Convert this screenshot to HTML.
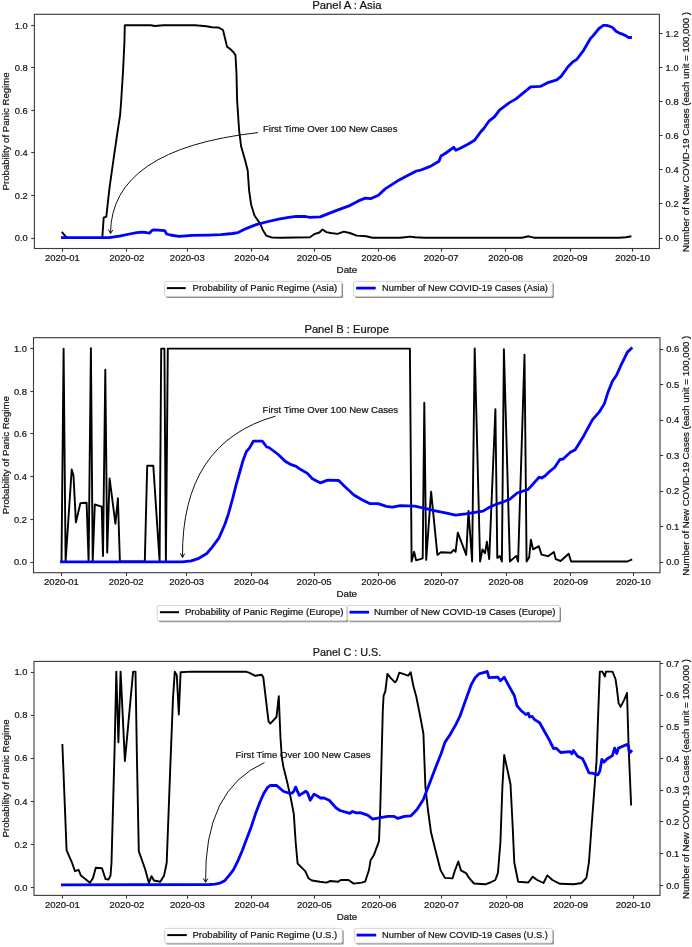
<!DOCTYPE html>
<html><head><meta charset="utf-8"><style>
html,body{margin:0;padding:0;background:#fff;}
svg{display:block;will-change:transform;}
text{font-family:"Liberation Sans", sans-serif;stroke:#1a1a1a;stroke-width:0.22px;}
</style></head><body>
<svg width="692" height="947" viewBox="0 0 692 947">
<rect width="692" height="947" fill="#fff"/>
<text x="346.90" y="9.20" font-size="10.9" text-anchor="middle" fill="#111" textLength="69.50" lengthAdjust="spacingAndGlyphs">Panel A : Asia</text>
<line x1="31.20" y1="238.50" x2="34.40" y2="238.50" stroke="#3a3a3a" stroke-width="1.1"/>
<text x="27.80" y="241.30" font-size="9.4" text-anchor="end" fill="#111" textLength="13.00" lengthAdjust="spacingAndGlyphs">0.0</text>
<line x1="31.20" y1="195.50" x2="34.40" y2="195.50" stroke="#3a3a3a" stroke-width="1.1"/>
<text x="27.80" y="198.78" font-size="9.4" text-anchor="end" fill="#111" textLength="13.00" lengthAdjust="spacingAndGlyphs">0.2</text>
<line x1="31.20" y1="152.50" x2="34.40" y2="152.50" stroke="#3a3a3a" stroke-width="1.1"/>
<text x="27.80" y="156.26" font-size="9.4" text-anchor="end" fill="#111" textLength="13.00" lengthAdjust="spacingAndGlyphs">0.4</text>
<line x1="31.20" y1="110.50" x2="34.40" y2="110.50" stroke="#3a3a3a" stroke-width="1.1"/>
<text x="27.80" y="113.74" font-size="9.4" text-anchor="end" fill="#111" textLength="13.00" lengthAdjust="spacingAndGlyphs">0.6</text>
<line x1="31.20" y1="67.50" x2="34.40" y2="67.50" stroke="#3a3a3a" stroke-width="1.1"/>
<text x="27.80" y="71.22" font-size="9.4" text-anchor="end" fill="#111" textLength="13.00" lengthAdjust="spacingAndGlyphs">0.8</text>
<line x1="31.20" y1="25.50" x2="34.40" y2="25.50" stroke="#3a3a3a" stroke-width="1.1"/>
<text x="27.80" y="28.70" font-size="9.4" text-anchor="end" fill="#111" textLength="13.00" lengthAdjust="spacingAndGlyphs">1.0</text>
<line x1="659.40" y1="238.50" x2="662.60" y2="238.50" stroke="#3a3a3a" stroke-width="1.1"/>
<text x="665.60" y="241.40" font-size="9.4" text-anchor="start" fill="#111" textLength="13.00" lengthAdjust="spacingAndGlyphs">0.0</text>
<line x1="659.40" y1="203.50" x2="662.60" y2="203.50" stroke="#3a3a3a" stroke-width="1.1"/>
<text x="665.60" y="207.28" font-size="9.4" text-anchor="start" fill="#111" textLength="13.00" lengthAdjust="spacingAndGlyphs">0.2</text>
<line x1="659.40" y1="169.50" x2="662.60" y2="169.50" stroke="#3a3a3a" stroke-width="1.1"/>
<text x="665.60" y="173.16" font-size="9.4" text-anchor="start" fill="#111" textLength="13.00" lengthAdjust="spacingAndGlyphs">0.4</text>
<line x1="659.40" y1="135.50" x2="662.60" y2="135.50" stroke="#3a3a3a" stroke-width="1.1"/>
<text x="665.60" y="139.04" font-size="9.4" text-anchor="start" fill="#111" textLength="13.00" lengthAdjust="spacingAndGlyphs">0.6</text>
<line x1="659.40" y1="101.50" x2="662.60" y2="101.50" stroke="#3a3a3a" stroke-width="1.1"/>
<text x="665.60" y="104.92" font-size="9.4" text-anchor="start" fill="#111" textLength="13.00" lengthAdjust="spacingAndGlyphs">0.8</text>
<line x1="659.40" y1="67.50" x2="662.60" y2="67.50" stroke="#3a3a3a" stroke-width="1.1"/>
<text x="665.60" y="70.80" font-size="9.4" text-anchor="start" fill="#111" textLength="13.00" lengthAdjust="spacingAndGlyphs">1.0</text>
<line x1="659.40" y1="33.50" x2="662.60" y2="33.50" stroke="#3a3a3a" stroke-width="1.1"/>
<text x="665.60" y="36.68" font-size="9.4" text-anchor="start" fill="#111" textLength="13.00" lengthAdjust="spacingAndGlyphs">1.2</text>
<line x1="62.50" y1="248.50" x2="62.50" y2="251.70" stroke="#3a3a3a" stroke-width="1.1"/>
<text x="62.40" y="261.00" font-size="9.1" text-anchor="middle" fill="#111" textLength="34.80" lengthAdjust="spacingAndGlyphs">2020-01</text>
<line x1="126.50" y1="248.50" x2="126.50" y2="251.70" stroke="#3a3a3a" stroke-width="1.1"/>
<text x="126.91" y="261.00" font-size="9.1" text-anchor="middle" fill="#111" textLength="34.80" lengthAdjust="spacingAndGlyphs">2020-02</text>
<line x1="187.50" y1="248.50" x2="187.50" y2="251.70" stroke="#3a3a3a" stroke-width="1.1"/>
<text x="187.26" y="261.00" font-size="9.1" text-anchor="middle" fill="#111" textLength="34.80" lengthAdjust="spacingAndGlyphs">2020-03</text>
<line x1="251.50" y1="248.50" x2="251.50" y2="251.70" stroke="#3a3a3a" stroke-width="1.1"/>
<text x="251.77" y="261.00" font-size="9.1" text-anchor="middle" fill="#111" textLength="34.80" lengthAdjust="spacingAndGlyphs">2020-04</text>
<line x1="314.50" y1="248.50" x2="314.50" y2="251.70" stroke="#3a3a3a" stroke-width="1.1"/>
<text x="314.20" y="261.00" font-size="9.1" text-anchor="middle" fill="#111" textLength="34.80" lengthAdjust="spacingAndGlyphs">2020-05</text>
<line x1="378.50" y1="248.50" x2="378.50" y2="251.70" stroke="#3a3a3a" stroke-width="1.1"/>
<text x="378.71" y="261.00" font-size="9.1" text-anchor="middle" fill="#111" textLength="34.80" lengthAdjust="spacingAndGlyphs">2020-06</text>
<line x1="441.50" y1="248.50" x2="441.50" y2="251.70" stroke="#3a3a3a" stroke-width="1.1"/>
<text x="441.14" y="261.00" font-size="9.1" text-anchor="middle" fill="#111" textLength="34.80" lengthAdjust="spacingAndGlyphs">2020-07</text>
<line x1="505.50" y1="248.50" x2="505.50" y2="251.70" stroke="#3a3a3a" stroke-width="1.1"/>
<text x="505.65" y="261.00" font-size="9.1" text-anchor="middle" fill="#111" textLength="34.80" lengthAdjust="spacingAndGlyphs">2020-08</text>
<line x1="570.50" y1="248.50" x2="570.50" y2="251.70" stroke="#3a3a3a" stroke-width="1.1"/>
<text x="570.16" y="261.00" font-size="9.1" text-anchor="middle" fill="#111" textLength="34.80" lengthAdjust="spacingAndGlyphs">2020-09</text>
<line x1="632.50" y1="248.50" x2="632.50" y2="251.70" stroke="#3a3a3a" stroke-width="1.1"/>
<text x="632.59" y="261.00" font-size="9.1" text-anchor="middle" fill="#111" textLength="34.80" lengthAdjust="spacingAndGlyphs">2020-10</text>
<text x="346.90" y="273.20" font-size="9.1" text-anchor="middle" fill="#111" textLength="20.60" lengthAdjust="spacingAndGlyphs">Date</text>
<text x="9.00" y="131.40" font-size="9.1" text-anchor="middle" fill="#111" textLength="118.00" lengthAdjust="spacingAndGlyphs" transform="rotate(-90 9.00 131.40)">Probability of Panic Regime</text>
<text x="689.40" y="132.00" font-size="9.1" text-anchor="middle" fill="#111" textLength="240.00" lengthAdjust="spacingAndGlyphs" transform="rotate(-90 689.40 132.00)">Number of New COVID-19 Cases (each unit = 100,000 )</text>
<polyline points="62.4,232.6 65.9,236.9 68.0,237.9 102.3,237.9 103.7,217.6 106.3,216.6 109.5,187.8 113.6,158.9 117.5,132.0 120.1,115.2 121.2,100.7 123.0,71.8 124.4,42.9 124.8,25.2 151.0,25.3 154.8,26.0 163.2,25.3 195.1,25.3 206.4,26.2 212.0,27.2 218.6,27.5 223.0,30.0 227.1,46.9 229.9,48.8 233.7,52.5 235.5,55.3 236.5,74.0 237.1,100.1 239.1,130.2 241.1,146.3 245.1,160.3 247.7,170.4 249.1,190.4 251.1,204.5 254.5,215.5 260.1,223.6 263.1,230.6 266.2,235.6 272.2,237.6 280.4,237.7 309.9,237.2 314.2,234.2 319.4,232.5 322.5,229.5 326.4,232.1 330.7,233.0 337.6,233.9 343.7,231.6 349.8,233.0 356.7,235.6 366.2,236.3 372.3,237.7 400.0,237.7 405.0,237.2 410.0,236.6 415.0,237.3 425.0,237.7 522.0,237.7 528.6,236.3 534.0,237.7 619.2,237.7 626.0,237.2 630.5,236.4" fill="none" stroke="#000" stroke-width="1.9" stroke-linejoin="round" stroke-linecap="square" />
<polyline points="62.4,237.7 109.2,237.7 119.4,236.2 129.5,234.0 136.7,232.6 142.5,232.2 145.8,232.5 149.4,233.2 152.3,230.1 154.5,229.9 164.6,230.6 166.7,234.0 170.3,235.0 179.0,236.4 192.0,235.4 209.4,235.1 220.9,234.7 232.5,233.5 238.1,232.6 246.1,228.6 256.1,224.6 268.2,221.5 278.7,219.1 287.3,217.7 296.0,216.4 305.5,216.5 309.9,217.4 320.3,216.9 329.0,213.4 339.4,209.4 349.8,205.6 358.4,200.9 365.4,198.1 370.6,198.7 378.4,195.2 385.2,188.9 397.3,181.1 407.7,175.5 416.4,171.0 421.6,169.8 430.3,166.4 439.0,161.2 441.0,156.0 445.9,153.0 453.7,147.3 455.8,150.2 459.8,148.5 468.4,144.0 474.5,140.3 480.6,132.0 484.0,128.2 489.2,120.8 494.4,116.9 499.5,110.2 509.1,102.9 516.0,98.9 530.7,86.8 540.3,86.4 547.2,82.9 556.8,79.8 561.1,76.4 568.0,66.8 573.2,61.6 576.7,59.5 583.6,50.3 590.6,38.2 592.2,36.8 599.0,28.5 603.4,25.4 606.6,25.4 611.7,27.0 613.5,28.5 616.0,31.3 620.3,33.4 626.1,35.8 628.3,37.5 630.5,37.5" fill="none" stroke="#0000ff" stroke-width="2.8" stroke-linejoin="round" stroke-linecap="square" />
<rect x="34.40" y="14.30" width="625.00" height="234.20" fill="none" stroke="#3a3a3a" stroke-width="1.1"/>
<rect x="166.10" y="282.90" width="177.00" height="15.00" rx="1.5" fill="#8a8a8a"/>
<rect x="164.60" y="281.40" width="177.00" height="15.00" rx="1.5" fill="#fff" stroke="#d0d0d0" stroke-width="0.9"/>
<line x1="166.90" y1="288.10" x2="185.70" y2="288.10" stroke="#000" stroke-width="2.0"/>
<text x="192.60" y="291.20" font-size="9.1" text-anchor="start" fill="#111" textLength="144.60" lengthAdjust="spacingAndGlyphs">Probability of Panic Regime (Asia)</text>
<rect x="355.00" y="282.90" width="198.80" height="15.00" rx="1.5" fill="#8a8a8a"/>
<rect x="353.50" y="281.40" width="198.80" height="15.00" rx="1.5" fill="#fff" stroke="#d0d0d0" stroke-width="0.9"/>
<line x1="356.10" y1="288.10" x2="375.70" y2="288.10" stroke="#0000ff" stroke-width="2.8"/>
<text x="382.00" y="291.20" font-size="9.1" text-anchor="start" fill="#111" textLength="165.90" lengthAdjust="spacingAndGlyphs">Number of New COVID-19 Cases (Asia)</text>
<path d="M258.00,132.60 Q111.00,149.20 110.50,233.40" fill="none" stroke="#111" stroke-width="1.0"/>
<path d="M108.30,229.50 L110.50,233.40 L112.80,230.00" fill="none" stroke="#111" stroke-width="1.0"/>
<text x="263.00" y="131.70" font-size="9.1" text-anchor="start" fill="#111" textLength="134.40" lengthAdjust="spacingAndGlyphs">First Time Over 100 New Cases</text>
<text x="346.75" y="332.90" font-size="10.9" text-anchor="middle" fill="#111" textLength="84.60" lengthAdjust="spacingAndGlyphs">Panel B : Europe</text>
<line x1="30.30" y1="562.50" x2="33.50" y2="562.50" stroke="#3a3a3a" stroke-width="1.1"/>
<text x="26.90" y="565.40" font-size="9.4" text-anchor="end" fill="#111" textLength="13.00" lengthAdjust="spacingAndGlyphs">0.0</text>
<line x1="30.30" y1="519.50" x2="33.50" y2="519.50" stroke="#3a3a3a" stroke-width="1.1"/>
<text x="26.90" y="522.68" font-size="9.4" text-anchor="end" fill="#111" textLength="13.00" lengthAdjust="spacingAndGlyphs">0.2</text>
<line x1="30.30" y1="476.50" x2="33.50" y2="476.50" stroke="#3a3a3a" stroke-width="1.1"/>
<text x="26.90" y="479.96" font-size="9.4" text-anchor="end" fill="#111" textLength="13.00" lengthAdjust="spacingAndGlyphs">0.4</text>
<line x1="30.30" y1="433.50" x2="33.50" y2="433.50" stroke="#3a3a3a" stroke-width="1.1"/>
<text x="26.90" y="437.24" font-size="9.4" text-anchor="end" fill="#111" textLength="13.00" lengthAdjust="spacingAndGlyphs">0.6</text>
<line x1="30.30" y1="391.50" x2="33.50" y2="391.50" stroke="#3a3a3a" stroke-width="1.1"/>
<text x="26.90" y="394.52" font-size="9.4" text-anchor="end" fill="#111" textLength="13.00" lengthAdjust="spacingAndGlyphs">0.8</text>
<line x1="30.30" y1="348.50" x2="33.50" y2="348.50" stroke="#3a3a3a" stroke-width="1.1"/>
<text x="26.90" y="351.80" font-size="9.4" text-anchor="end" fill="#111" textLength="13.00" lengthAdjust="spacingAndGlyphs">1.0</text>
<line x1="660.00" y1="562.50" x2="663.20" y2="562.50" stroke="#3a3a3a" stroke-width="1.1"/>
<text x="666.20" y="565.30" font-size="9.4" text-anchor="start" fill="#111" textLength="13.00" lengthAdjust="spacingAndGlyphs">0.0</text>
<line x1="660.00" y1="526.50" x2="663.20" y2="526.50" stroke="#3a3a3a" stroke-width="1.1"/>
<text x="666.20" y="529.82" font-size="9.4" text-anchor="start" fill="#111" textLength="13.00" lengthAdjust="spacingAndGlyphs">0.1</text>
<line x1="660.00" y1="491.50" x2="663.20" y2="491.50" stroke="#3a3a3a" stroke-width="1.1"/>
<text x="666.20" y="494.34" font-size="9.4" text-anchor="start" fill="#111" textLength="13.00" lengthAdjust="spacingAndGlyphs">0.2</text>
<line x1="660.00" y1="455.50" x2="663.20" y2="455.50" stroke="#3a3a3a" stroke-width="1.1"/>
<text x="666.20" y="458.86" font-size="9.4" text-anchor="start" fill="#111" textLength="13.00" lengthAdjust="spacingAndGlyphs">0.3</text>
<line x1="660.00" y1="420.50" x2="663.20" y2="420.50" stroke="#3a3a3a" stroke-width="1.1"/>
<text x="666.20" y="423.38" font-size="9.4" text-anchor="start" fill="#111" textLength="13.00" lengthAdjust="spacingAndGlyphs">0.4</text>
<line x1="660.00" y1="384.50" x2="663.20" y2="384.50" stroke="#3a3a3a" stroke-width="1.1"/>
<text x="666.20" y="387.90" font-size="9.4" text-anchor="start" fill="#111" textLength="13.00" lengthAdjust="spacingAndGlyphs">0.5</text>
<line x1="660.00" y1="349.50" x2="663.20" y2="349.50" stroke="#3a3a3a" stroke-width="1.1"/>
<text x="666.20" y="352.42" font-size="9.4" text-anchor="start" fill="#111" textLength="13.00" lengthAdjust="spacingAndGlyphs">0.6</text>
<line x1="61.50" y1="572.70" x2="61.50" y2="575.90" stroke="#3a3a3a" stroke-width="1.1"/>
<text x="61.50" y="585.10" font-size="9.1" text-anchor="middle" fill="#111" textLength="34.80" lengthAdjust="spacingAndGlyphs">2020-01</text>
<line x1="126.50" y1="572.70" x2="126.50" y2="575.90" stroke="#3a3a3a" stroke-width="1.1"/>
<text x="126.20" y="585.10" font-size="9.1" text-anchor="middle" fill="#111" textLength="34.80" lengthAdjust="spacingAndGlyphs">2020-02</text>
<line x1="186.50" y1="572.70" x2="186.50" y2="575.90" stroke="#3a3a3a" stroke-width="1.1"/>
<text x="186.72" y="585.10" font-size="9.1" text-anchor="middle" fill="#111" textLength="34.80" lengthAdjust="spacingAndGlyphs">2020-03</text>
<line x1="251.50" y1="572.70" x2="251.50" y2="575.90" stroke="#3a3a3a" stroke-width="1.1"/>
<text x="251.42" y="585.10" font-size="9.1" text-anchor="middle" fill="#111" textLength="34.80" lengthAdjust="spacingAndGlyphs">2020-04</text>
<line x1="314.50" y1="572.70" x2="314.50" y2="575.90" stroke="#3a3a3a" stroke-width="1.1"/>
<text x="314.03" y="585.10" font-size="9.1" text-anchor="middle" fill="#111" textLength="34.80" lengthAdjust="spacingAndGlyphs">2020-05</text>
<line x1="378.50" y1="572.70" x2="378.50" y2="575.90" stroke="#3a3a3a" stroke-width="1.1"/>
<text x="378.72" y="585.10" font-size="9.1" text-anchor="middle" fill="#111" textLength="34.80" lengthAdjust="spacingAndGlyphs">2020-06</text>
<line x1="441.50" y1="572.70" x2="441.50" y2="575.90" stroke="#3a3a3a" stroke-width="1.1"/>
<text x="441.33" y="585.10" font-size="9.1" text-anchor="middle" fill="#111" textLength="34.80" lengthAdjust="spacingAndGlyphs">2020-07</text>
<line x1="506.50" y1="572.70" x2="506.50" y2="575.90" stroke="#3a3a3a" stroke-width="1.1"/>
<text x="506.03" y="585.10" font-size="9.1" text-anchor="middle" fill="#111" textLength="34.80" lengthAdjust="spacingAndGlyphs">2020-08</text>
<line x1="570.50" y1="572.70" x2="570.50" y2="575.90" stroke="#3a3a3a" stroke-width="1.1"/>
<text x="570.73" y="585.10" font-size="9.1" text-anchor="middle" fill="#111" textLength="34.80" lengthAdjust="spacingAndGlyphs">2020-09</text>
<line x1="633.50" y1="572.70" x2="633.50" y2="575.90" stroke="#3a3a3a" stroke-width="1.1"/>
<text x="633.34" y="585.10" font-size="9.1" text-anchor="middle" fill="#111" textLength="34.80" lengthAdjust="spacingAndGlyphs">2020-10</text>
<text x="346.75" y="596.70" font-size="9.1" text-anchor="middle" fill="#111" textLength="20.60" lengthAdjust="spacingAndGlyphs">Date</text>
<text x="9.00" y="455.20" font-size="9.1" text-anchor="middle" fill="#111" textLength="118.00" lengthAdjust="spacingAndGlyphs" transform="rotate(-90 9.00 455.20)">Probability of Panic Regime</text>
<text x="689.40" y="455.75" font-size="9.1" text-anchor="middle" fill="#111" textLength="240.00" lengthAdjust="spacingAndGlyphs" transform="rotate(-90 689.40 455.75)">Number of New COVID-19 Cases (each unit = 100,000 )</text>
<polyline points="61.5,561.5 63.6,348.6 65.6,561.5 71.7,469.5 73.5,475.7 75.9,522.4 80.4,503.1 86.6,502.7 88.6,561.5 90.9,348.2 92.7,561.5 94.8,504.5 101.7,506.6 103.0,556.0 105.3,369.8 107.2,552.6 109.6,478.4 115.4,523.7 117.9,498.3 119.9,561.5 144.8,561.5 147.2,465.8 153.3,465.8 159.6,561.5 161.2,348.6 164.4,348.6 165.9,561.5 167.8,348.6 409.9,348.6 411.6,561.5 414.1,551.8 416.1,560.4 422.7,558.4 424.3,402.7 426.2,559.9 431.1,491.6 437.4,554.9 440.9,552.3 451.0,552.8 453.6,549.8 455.6,551.8 457.8,532.6 466.2,554.9 468.5,510.9 472.1,561.5 474.7,348.5 480.1,561.5 482.4,549.4 485.0,553.3 486.9,541.6 489.2,559.2 495.4,409.2 497.3,557.9 499.7,555.9 501.9,561.5 503.9,349.2 509.9,561.5 516.2,555.9 518.1,561.5 524.5,354.6 526.6,561.5 529.2,557.2 530.9,539.7 533.1,549.4 538.9,546.2 541.5,554.6 548.0,556.2 553.9,552.0 555.8,559.2 560.6,561.0 568.7,553.7 571.1,561.5 627.4,561.5 631.3,559.8" fill="none" stroke="#000" stroke-width="1.9" stroke-linejoin="round" stroke-linecap="square" />
<polyline points="61.5,561.8 182.5,561.8 191.2,560.8 198.1,558.7 206.8,553.5 212.0,547.4 219.0,537.9 225.0,524.0 228.5,513.6 232.8,498.0 236.3,484.2 239.8,472.0 243.2,459.9 246.4,451.5 249.4,448.1 253.3,441.2 262.3,441.2 266.7,447.0 268.9,447.5 277.6,454.0 279.0,455.2 285.1,461.2 291.2,464.7 296.2,466.3 300.3,469.3 307.4,473.4 312.4,478.8 320.5,482.9 327.6,480.1 338.7,480.5 345.8,487.5 353.9,495.0 362.0,499.7 370.1,503.7 378.2,503.7 386.3,506.4 392.3,507.2 400.4,505.7 414.6,506.2 425.2,508.3 435.3,510.9 445.5,512.9 455.6,515.2 465.7,513.9 475.0,512.4 483.0,511.1 489.5,507.2 498.6,503.3 501.4,502.7 509.9,499.1 517.2,493.0 528.2,489.4 539.1,477.2 541.5,478.0 544.9,476.0 548.5,472.4 554.6,467.5 559.9,459.5 563.1,459.0 570.4,452.2 575.2,449.8 583.7,435.9 592.2,420.2 599.5,411.7 604.4,403.6 608.0,392.2 612.4,381.3 616.5,375.2 621.4,364.3 627.4,352.1 631.3,348.5" fill="none" stroke="#0000ff" stroke-width="2.8" stroke-linejoin="round" stroke-linecap="square" />
<rect x="33.50" y="337.70" width="626.50" height="235.00" fill="none" stroke="#3a3a3a" stroke-width="1.1"/>
<rect x="158.80" y="607.00" width="189.50" height="15.30" rx="1.5" fill="#8a8a8a"/>
<rect x="157.30" y="605.50" width="189.50" height="15.30" rx="1.5" fill="#fff" stroke="#d0d0d0" stroke-width="0.9"/>
<line x1="159.90" y1="612.20" x2="179.00" y2="612.20" stroke="#000" stroke-width="2.0"/>
<text x="184.90" y="615.30" font-size="9.1" text-anchor="start" fill="#111" textLength="158.70" lengthAdjust="spacingAndGlyphs">Probability of Panic Regime (Europe)</text>
<rect x="349.10" y="607.00" width="211.90" height="15.30" rx="1.5" fill="#8a8a8a"/>
<rect x="347.60" y="605.50" width="211.90" height="15.30" rx="1.5" fill="#fff" stroke="#d0d0d0" stroke-width="0.9"/>
<line x1="349.50" y1="612.20" x2="369.10" y2="612.20" stroke="#0000ff" stroke-width="2.8"/>
<text x="374.00" y="615.30" font-size="9.1" text-anchor="start" fill="#111" textLength="181.40" lengthAdjust="spacingAndGlyphs">Number of New COVID-19 Cases (Europe)</text>
<path d="M275.40,416.20 Q181.40,442.80 182.50,557.60" fill="none" stroke="#111" stroke-width="1.0"/>
<path d="M180.30,553.40 L182.50,557.60 L184.60,553.60" fill="none" stroke="#111" stroke-width="1.0"/>
<text x="262.60" y="412.70" font-size="9.1" text-anchor="start" fill="#111" textLength="135.50" lengthAdjust="spacingAndGlyphs">First Time Over 100 New Cases</text>
<text x="347.00" y="656.00" font-size="10.9" text-anchor="middle" fill="#111" textLength="68.50" lengthAdjust="spacingAndGlyphs">Panel C : U.S.</text>
<line x1="30.80" y1="887.50" x2="34.00" y2="887.50" stroke="#3a3a3a" stroke-width="1.1"/>
<text x="27.40" y="890.70" font-size="9.4" text-anchor="end" fill="#111" textLength="13.00" lengthAdjust="spacingAndGlyphs">0.0</text>
<line x1="30.80" y1="844.50" x2="34.00" y2="844.50" stroke="#3a3a3a" stroke-width="1.1"/>
<text x="27.40" y="847.62" font-size="9.4" text-anchor="end" fill="#111" textLength="13.00" lengthAdjust="spacingAndGlyphs">0.2</text>
<line x1="30.80" y1="801.50" x2="34.00" y2="801.50" stroke="#3a3a3a" stroke-width="1.1"/>
<text x="27.40" y="804.54" font-size="9.4" text-anchor="end" fill="#111" textLength="13.00" lengthAdjust="spacingAndGlyphs">0.4</text>
<line x1="30.80" y1="758.50" x2="34.00" y2="758.50" stroke="#3a3a3a" stroke-width="1.1"/>
<text x="27.40" y="761.46" font-size="9.4" text-anchor="end" fill="#111" textLength="13.00" lengthAdjust="spacingAndGlyphs">0.6</text>
<line x1="30.80" y1="715.50" x2="34.00" y2="715.50" stroke="#3a3a3a" stroke-width="1.1"/>
<text x="27.40" y="718.38" font-size="9.4" text-anchor="end" fill="#111" textLength="13.00" lengthAdjust="spacingAndGlyphs">0.8</text>
<line x1="30.80" y1="672.50" x2="34.00" y2="672.50" stroke="#3a3a3a" stroke-width="1.1"/>
<text x="27.40" y="675.30" font-size="9.4" text-anchor="end" fill="#111" textLength="13.00" lengthAdjust="spacingAndGlyphs">1.0</text>
<line x1="660.00" y1="885.50" x2="663.20" y2="885.50" stroke="#3a3a3a" stroke-width="1.1"/>
<text x="666.20" y="888.50" font-size="9.4" text-anchor="start" fill="#111" textLength="13.00" lengthAdjust="spacingAndGlyphs">0.0</text>
<line x1="660.00" y1="853.50" x2="663.20" y2="853.50" stroke="#3a3a3a" stroke-width="1.1"/>
<text x="666.20" y="856.81" font-size="9.4" text-anchor="start" fill="#111" textLength="13.00" lengthAdjust="spacingAndGlyphs">0.1</text>
<line x1="660.00" y1="821.50" x2="663.20" y2="821.50" stroke="#3a3a3a" stroke-width="1.1"/>
<text x="666.20" y="825.12" font-size="9.4" text-anchor="start" fill="#111" textLength="13.00" lengthAdjust="spacingAndGlyphs">0.2</text>
<line x1="660.00" y1="790.50" x2="663.20" y2="790.50" stroke="#3a3a3a" stroke-width="1.1"/>
<text x="666.20" y="793.43" font-size="9.4" text-anchor="start" fill="#111" textLength="13.00" lengthAdjust="spacingAndGlyphs">0.3</text>
<line x1="660.00" y1="758.50" x2="663.20" y2="758.50" stroke="#3a3a3a" stroke-width="1.1"/>
<text x="666.20" y="761.74" font-size="9.4" text-anchor="start" fill="#111" textLength="13.00" lengthAdjust="spacingAndGlyphs">0.4</text>
<line x1="660.00" y1="726.50" x2="663.20" y2="726.50" stroke="#3a3a3a" stroke-width="1.1"/>
<text x="666.20" y="730.05" font-size="9.4" text-anchor="start" fill="#111" textLength="13.00" lengthAdjust="spacingAndGlyphs">0.5</text>
<line x1="660.00" y1="695.50" x2="663.20" y2="695.50" stroke="#3a3a3a" stroke-width="1.1"/>
<text x="666.20" y="698.36" font-size="9.4" text-anchor="start" fill="#111" textLength="13.00" lengthAdjust="spacingAndGlyphs">0.6</text>
<line x1="660.00" y1="663.50" x2="663.20" y2="663.50" stroke="#3a3a3a" stroke-width="1.1"/>
<text x="666.20" y="666.67" font-size="9.4" text-anchor="start" fill="#111" textLength="13.00" lengthAdjust="spacingAndGlyphs">0.7</text>
<line x1="62.50" y1="895.40" x2="62.50" y2="898.60" stroke="#3a3a3a" stroke-width="1.1"/>
<text x="62.40" y="908.10" font-size="9.1" text-anchor="middle" fill="#111" textLength="34.80" lengthAdjust="spacingAndGlyphs">2020-01</text>
<line x1="126.50" y1="895.40" x2="126.50" y2="898.60" stroke="#3a3a3a" stroke-width="1.1"/>
<text x="126.97" y="908.10" font-size="9.1" text-anchor="middle" fill="#111" textLength="34.80" lengthAdjust="spacingAndGlyphs">2020-02</text>
<line x1="187.50" y1="895.40" x2="187.50" y2="898.60" stroke="#3a3a3a" stroke-width="1.1"/>
<text x="187.38" y="908.10" font-size="9.1" text-anchor="middle" fill="#111" textLength="34.80" lengthAdjust="spacingAndGlyphs">2020-03</text>
<line x1="251.50" y1="895.40" x2="251.50" y2="898.60" stroke="#3a3a3a" stroke-width="1.1"/>
<text x="251.95" y="908.10" font-size="9.1" text-anchor="middle" fill="#111" textLength="34.80" lengthAdjust="spacingAndGlyphs">2020-04</text>
<line x1="314.50" y1="895.40" x2="314.50" y2="898.60" stroke="#3a3a3a" stroke-width="1.1"/>
<text x="314.44" y="908.10" font-size="9.1" text-anchor="middle" fill="#111" textLength="34.80" lengthAdjust="spacingAndGlyphs">2020-05</text>
<line x1="379.50" y1="895.40" x2="379.50" y2="898.60" stroke="#3a3a3a" stroke-width="1.1"/>
<text x="379.02" y="908.10" font-size="9.1" text-anchor="middle" fill="#111" textLength="34.80" lengthAdjust="spacingAndGlyphs">2020-06</text>
<line x1="441.50" y1="895.40" x2="441.50" y2="898.60" stroke="#3a3a3a" stroke-width="1.1"/>
<text x="441.51" y="908.10" font-size="9.1" text-anchor="middle" fill="#111" textLength="34.80" lengthAdjust="spacingAndGlyphs">2020-07</text>
<line x1="506.50" y1="895.40" x2="506.50" y2="898.60" stroke="#3a3a3a" stroke-width="1.1"/>
<text x="506.08" y="908.10" font-size="9.1" text-anchor="middle" fill="#111" textLength="34.80" lengthAdjust="spacingAndGlyphs">2020-08</text>
<line x1="570.50" y1="895.40" x2="570.50" y2="898.60" stroke="#3a3a3a" stroke-width="1.1"/>
<text x="570.65" y="908.10" font-size="9.1" text-anchor="middle" fill="#111" textLength="34.80" lengthAdjust="spacingAndGlyphs">2020-09</text>
<line x1="633.50" y1="895.40" x2="633.50" y2="898.60" stroke="#3a3a3a" stroke-width="1.1"/>
<text x="633.14" y="908.10" font-size="9.1" text-anchor="middle" fill="#111" textLength="34.80" lengthAdjust="spacingAndGlyphs">2020-10</text>
<text x="347.00" y="920.00" font-size="9.1" text-anchor="middle" fill="#111" textLength="20.60" lengthAdjust="spacingAndGlyphs">Date</text>
<text x="9.00" y="778.40" font-size="9.1" text-anchor="middle" fill="#111" textLength="118.00" lengthAdjust="spacingAndGlyphs" transform="rotate(-90 9.00 778.40)">Probability of Panic Regime</text>
<text x="689.40" y="779.00" font-size="9.1" text-anchor="middle" fill="#111" textLength="240.00" lengthAdjust="spacingAndGlyphs" transform="rotate(-90 689.40 779.00)">Number of New COVID-19 Cases (each unit = 100,000 )</text>
<polyline points="62.4,745.0 66.6,850.3 72.2,863.2 75.0,871.2 78.6,869.8 80.9,875.6 90.0,882.7 93.0,877.9 95.8,867.8 102.0,868.2 105.5,879.0 108.5,879.5 110.5,875.8 111.5,862.7 114.6,748.7 116.3,671.6 118.4,742.4 120.6,671.6 124.9,761.0 133.1,671.6 135.5,671.6 137.0,761.4 138.8,851.3 145.1,869.1 148.9,883.0 151.5,876.2 154.0,880.5 160.3,881.7 164.1,875.4 166.7,862.7 170.5,761.4 173.0,698.0 174.8,671.6 176.8,675.2 178.8,714.5 180.6,672.2 190.8,671.6 246.4,671.8 249.0,672.7 255.3,675.8 261.7,674.8 263.3,677.4 268.5,721.2 270.3,723.6 276.5,717.0 278.8,696.1 279.3,709.5 280.5,738.0 281.8,757.0 283.3,766.5 287.1,781.7 290.9,798.8 293.8,814.0 295.7,842.6 297.6,863.5 301.4,867.3 305.2,871.1 308.5,878.3 312.0,880.5 319.9,881.8 326.4,882.6 330.3,881.0 338.1,881.8 340.7,880.0 348.5,880.0 353.7,883.6 361.5,882.6 365.1,881.7 368.9,870.3 370.6,860.2 373.9,855.1 379.0,841.2 380.3,807.0 382.8,710.7 383.6,695.5 385.3,691.7 387.4,673.9 390.4,677.7 395.0,682.3 396.7,680.3 399.3,672.7 403.1,673.9 408.1,675.7 410.7,672.2 413.2,685.3 416.3,696.7 419.6,713.2 423.4,733.5 425.4,786.7 427.9,809.5 431.0,832.3 436.0,852.6 440.6,870.3 444.9,877.9 452.5,878.4 455.0,870.3 458.3,861.5 460.9,870.3 466.4,873.4 469.0,877.9 474.0,883.5 485.2,884.3 490.3,882.5 495.3,880.0 497.9,872.9 500.4,842.5 502.4,786.7 504.2,755.0 510.5,784.2 512.6,824.7 514.3,862.7 518.2,881.7 528.3,882.5 532.8,876.7 537.2,880.0 543.5,883.0 547.3,875.4 552.4,880.0 560.0,883.8 573.9,884.3 581.5,883.0 586.4,877.9 588.9,862.7 591.5,827.3 596.5,761.4 598.3,710.7 599.8,671.6 602.4,671.6 604.9,676.5 605.9,671.6 612.5,671.6 615.5,679.0 616.8,687.9 618.6,703.1 620.6,706.9 624.4,699.3 627.0,693.0 628.7,748.7 631.1,804.5" fill="none" stroke="#000" stroke-width="1.9" stroke-linejoin="round" stroke-linecap="square" />
<polyline points="62.4,884.8 209.8,884.5 215.0,884.1 220.1,883.1 224.6,880.8 229.0,875.7 233.4,869.8 237.9,860.9 242.3,850.5 246.7,838.7 251.2,826.9 255.6,813.6 260.1,801.7 263.7,793.6 267.4,787.7 270.4,785.4 276.7,785.5 283.3,791.2 288.5,793.0 291.9,793.2 293.7,791.5 295.6,787.1 299.3,795.4 305.8,791.3 307.5,792.8 310.2,800.2 314.1,794.1 320.6,798.0 324.0,798.0 329.2,800.2 336.2,808.0 340.0,810.5 349.8,813.4 352.4,811.5 356.3,812.8 360.0,812.6 367.6,815.1 372.7,819.1 380.3,817.6 387.9,816.4 394.2,816.4 398.0,818.4 404.3,816.4 410.7,815.9 417.0,809.5 423.4,799.4 429.7,782.9 436.0,766.4 441.1,753.8 444.9,742.4 450.0,734.8 455.8,724.6 460.1,715.8 466.4,698.0 471.5,684.1 475.1,677.7 478.9,673.9 485.2,672.2 487.2,671.4 489.0,677.7 497.9,677.2 500.4,680.8 504.2,677.2 509.3,686.6 514.3,695.5 516.9,705.6 520.7,710.2 525.8,714.5 528.3,713.2 529.6,717.0 532.1,716.3 534.6,719.6 539.7,722.8 543.5,729.7 548.6,738.6 553.6,748.7 556.2,748.2 560.7,752.5 570.1,751.7 571.9,753.8 573.4,750.5 577.7,756.3 582.6,758.8 585.1,763.9 588.9,772.8 592.2,773.2 597.9,774.8 599.8,771.2 601.9,759.3 604.1,762.2 606.6,759.3 612.4,755.6 614.6,748.1 616.7,753.5 618.5,748.1 626.8,744.5 628.3,745.2 629.4,753.1 631.1,751.3" fill="none" stroke="#0000ff" stroke-width="2.8" stroke-linejoin="round" stroke-linecap="square" />
<rect x="34.00" y="661.40" width="626.00" height="234.00" fill="none" stroke="#3a3a3a" stroke-width="1.1"/>
<rect x="166.20" y="929.90" width="177.50" height="14.70" rx="1.5" fill="#8a8a8a"/>
<rect x="164.70" y="928.40" width="177.50" height="14.70" rx="1.5" fill="#fff" stroke="#d0d0d0" stroke-width="0.9"/>
<line x1="167.30" y1="935.10" x2="186.80" y2="935.10" stroke="#000" stroke-width="2.0"/>
<text x="192.50" y="938.20" font-size="9.1" text-anchor="start" fill="#111" textLength="144.80" lengthAdjust="spacingAndGlyphs">Probability of Panic Regime (U.S.)</text>
<rect x="356.10" y="929.90" width="197.70" height="14.70" rx="1.5" fill="#8a8a8a"/>
<rect x="354.60" y="928.40" width="197.70" height="14.70" rx="1.5" fill="#fff" stroke="#d0d0d0" stroke-width="0.9"/>
<line x1="356.60" y1="935.10" x2="376.20" y2="935.10" stroke="#0000ff" stroke-width="2.8"/>
<text x="382.10" y="938.20" font-size="9.1" text-anchor="start" fill="#111" textLength="165.80" lengthAdjust="spacingAndGlyphs">Number of New COVID-19 Cases (U.S.)</text>
<path d="M264.50,762.60 Q203.80,789.50 205.60,882.30" fill="none" stroke="#111" stroke-width="1.0"/>
<path d="M203.40,878.30 L205.60,882.30 L207.90,878.60" fill="none" stroke="#111" stroke-width="1.0"/>
<text x="235.50" y="758.40" font-size="9.1" text-anchor="start" fill="#111" textLength="135.10" lengthAdjust="spacingAndGlyphs">First Time Over 100 New Cases</text>
</svg>
</body></html>
